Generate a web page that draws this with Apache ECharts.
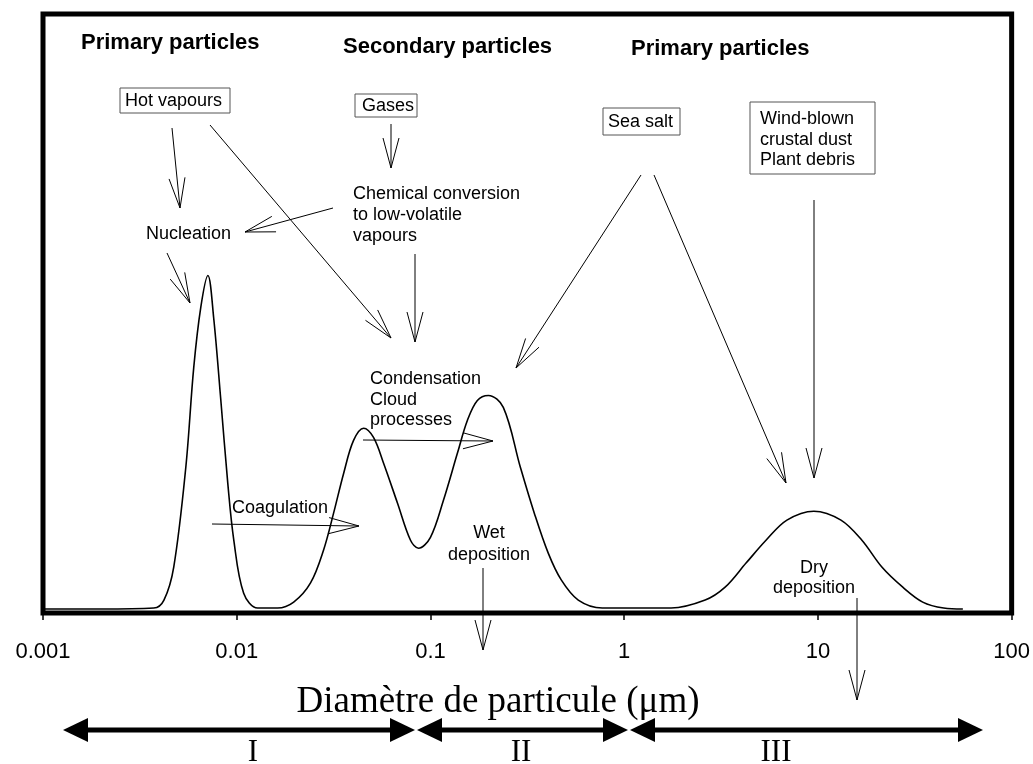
<!DOCTYPE html>
<html>
<head>
<meta charset="utf-8">
<script src="https://cdn.jsdelivr.net/npm/echarts@6/dist/echarts.min.js"></script>
<style>
  html, body { margin: 0; padding: 0; background: #fff; }
  #chart { width: 1033px; height: 764px; }
</style>
</head>
<body>
<div id="chart"></div>
<script>
  // particle diameter (µm) and relative number concentration
  const diameters = [0.001, 0.002, 0.00373, 0.00421, 0.00473, 0.00546, 0.0060, 0.00652, 0.0071, 0.0076,
    0.00828, 0.00899, 0.00966, 0.01086, 0.01282, 0.01626, 0.01968, 0.02404, 0.02805, 0.03162,
    0.03565, 0.04009, 0.04519, 0.05082, 0.05728, 0.06761, 0.07889, 0.0867, 0.1, 0.1167,
    0.1377, 0.1552, 0.1746, 0.1991, 0.2377, 0.2911, 0.3436, 0.4055, 0.4732, 0.5794,
    0.7709, 1.746, 2.618, 3.319, 4.256, 5.395, 6.918, 9.528, 13.15, 16.87,
    21.38, 27.42, 34.75, 44.57, 56];
  const concentration = [0, 0, 0.3, 2.7, 12.7, 42.9, 73.1, 91.2, 100.9, 88.2,
    63.1, 38.1, 20.8, 4.8, 0.3, 0.3, 2.1, 7.9, 17.8, 29.0,
    41.1, 51.0, 54.7, 51.9, 44.1, 32.0, 20.8, 18.4, 21.7, 32.9,
    47.1, 57.1, 63.1, 64.6, 61.0, 42.9, 29.0, 16.9, 8.8, 2.7,
    0.3, 0.3, 2.7, 6.6, 13.9, 20.8, 26.9, 29.6, 26.9, 20.8,
    12.7, 6.6, 2.1, 0.3, 0];
  const groupTitles = ['Primary particles', 'Secondary particles', 'Primary particles'];
  const sizeClasses = ['I', 'II', 'III'];

  const chart = echarts.init(document.getElementById('chart'));

  const sans = '"Liberation Sans", Arial, sans-serif';
  const serif = '"Liberation Serif", "Times New Roman", serif';

  const g = [];
  function txt(x, y, s, size, opts) {
    opts = opts || {};
    g.push({
      type: 'text', x: x, y: y, z: 10,
      style: {
        text: s, fill: '#000',
        font: (opts.bold ? 'bold ' : '') + size + 'px ' + (opts.family || sans),
        textAlign: opts.align || 'left', textVerticalAlign: 'middle',
        lineHeight: opts.lh || size
      }
    });
  }
  function box(x, y, w, h) {
    g.push({ type: 'rect', z: 9, shape: { x: x, y: y, width: w, height: h },
      style: { fill: 'none', stroke: '#555', lineWidth: 1 } });
  }
  // thin arrow with open V head
  function arrow(x1, y1, x2, y2) {
    const dx = x2 - x1, dy = y2 - y1, len = Math.sqrt(dx * dx + dy * dy);
    const ux = dx / len, uy = dy / len, nx = -uy, ny = ux;
    const L = 30, W = 8;
    g.push({ type: 'line', z: 9, shape: { x1: x1, y1: y1, x2: x2, y2: y2 },
      style: { stroke: '#000', lineWidth: 1 } });
    g.push({ type: 'polyline', z: 9,
      shape: { points: [[x2 - L * ux + W * nx, y2 - L * uy + W * ny], [x2, y2],
                        [x2 - L * ux - W * nx, y2 - L * uy - W * ny]] },
      style: { stroke: '#000', lineWidth: 1, fill: 'none' } });
  }
  // thick double-headed arrow under the axis
  function span(xa, xb, y) {
    const L = 25, H = 12;
    g.push({ type: 'line', shape: { x1: xa + L - 2, y1: y, x2: xb - L + 2, y2: y },
      style: { stroke: '#000', lineWidth: 5 } });
    g.push({ type: 'polygon', shape: { points: [[xa, y], [xa + L, y - H], [xa + L, y + H]] },
      style: { fill: '#000' } });
    g.push({ type: 'polygon', shape: { points: [[xb, y], [xb - L, y - H], [xb - L, y + H]] },
      style: { fill: '#000' } });
  }

  // group titles
  txt(81, 43, groupTitles[0], 22, { bold: true });
  txt(343, 47, groupTitles[1], 22, { bold: true });
  txt(631, 49, groupTitles[2], 22, { bold: true });

  // sources
  box(120, 88, 110, 25); txt(125, 101, 'Hot vapours', 18);
  box(355, 94, 62, 23); txt(362, 106, 'Gases', 18);
  box(603, 108, 77, 27); txt(608, 122, 'Sea salt', 18);
  box(750, 102, 125, 72); txt(760, 140, 'Wind-blown\ncrustal dust\nPlant debris', 18, { lh: 20.5 });

  // processes
  txt(146, 234, 'Nucleation', 18);
  txt(353, 215, 'Chemical conversion\nto low-volatile\nvapours', 18, { lh: 21 });
  txt(370, 400, 'Condensation\nCloud\nprocesses', 18, { lh: 20.5 });
  txt(232, 508, 'Coagulation', 18);
  txt(489, 544, 'Wet\ndeposition', 18, { align: 'center', lh: 22 });
  txt(814, 578, 'Dry\ndeposition', 18, { align: 'center', lh: 20 });

  arrow(172, 128, 180, 208);
  arrow(210, 125, 391, 338);
  arrow(333, 208, 245, 232);
  arrow(391, 124, 391, 168);
  arrow(415, 254, 415, 342);
  arrow(641, 175, 516, 368);
  arrow(654, 175, 786, 483);
  arrow(814, 200, 814, 478);
  arrow(363, 440, 493, 441);
  arrow(212, 524, 359, 526);
  arrow(483, 568, 483, 650);
  arrow(857, 598, 857, 700);
  arrow(167, 253, 190, 303);

  // axis title and size classes
  txt(498, 702, 'Diamètre de particule (μm)', 37, { align: 'center', family: serif });
  span(63, 415, 730);
  span(417, 628, 730);
  span(630, 983, 730);
  txt(253, 753, sizeClasses[0], 31, { align: 'center', family: serif });
  txt(521, 753, sizeClasses[1], 31, { align: 'center', family: serif });
  txt(776, 753, sizeClasses[2], 31, { align: 'center', family: serif });

  const option = {
    animation: false,
    grid: {
      left: 43, right: 20, top: 14, bottom: 151,
      show: true, borderColor: '#000', borderWidth: 5, backgroundColor: 'transparent'
    },
    xAxis: {
      type: 'log', logBase: 10, min: 0.001, max: 100,
      axisLine: { show: false, onZero: false },
      axisTick: { show: true, length: 7, lineStyle: { color: '#000', width: 1.5 } },
      axisLabel: {
        margin: 28, color: '#000', fontSize: 22, fontFamily: sans,
        formatter: function (v) { return String(+v.toPrecision(3)); }
      },
      splitLine: { show: false },
      minorTick: { show: false }
    },
    yAxis: {
      type: 'value', min: -1.2, max: 180, show: false,
      splitLine: { show: false }
    },
    series: [{
      type: 'line',
      data: diameters.map(function (d, i) { return [d, concentration[i]]; }),
      smooth: 0.35,
      symbol: 'none',
      lineStyle: { color: '#000', width: 1.6 }
    }],
    graphic: g
  };
  chart.setOption(option);
</script>
</body>
</html>
